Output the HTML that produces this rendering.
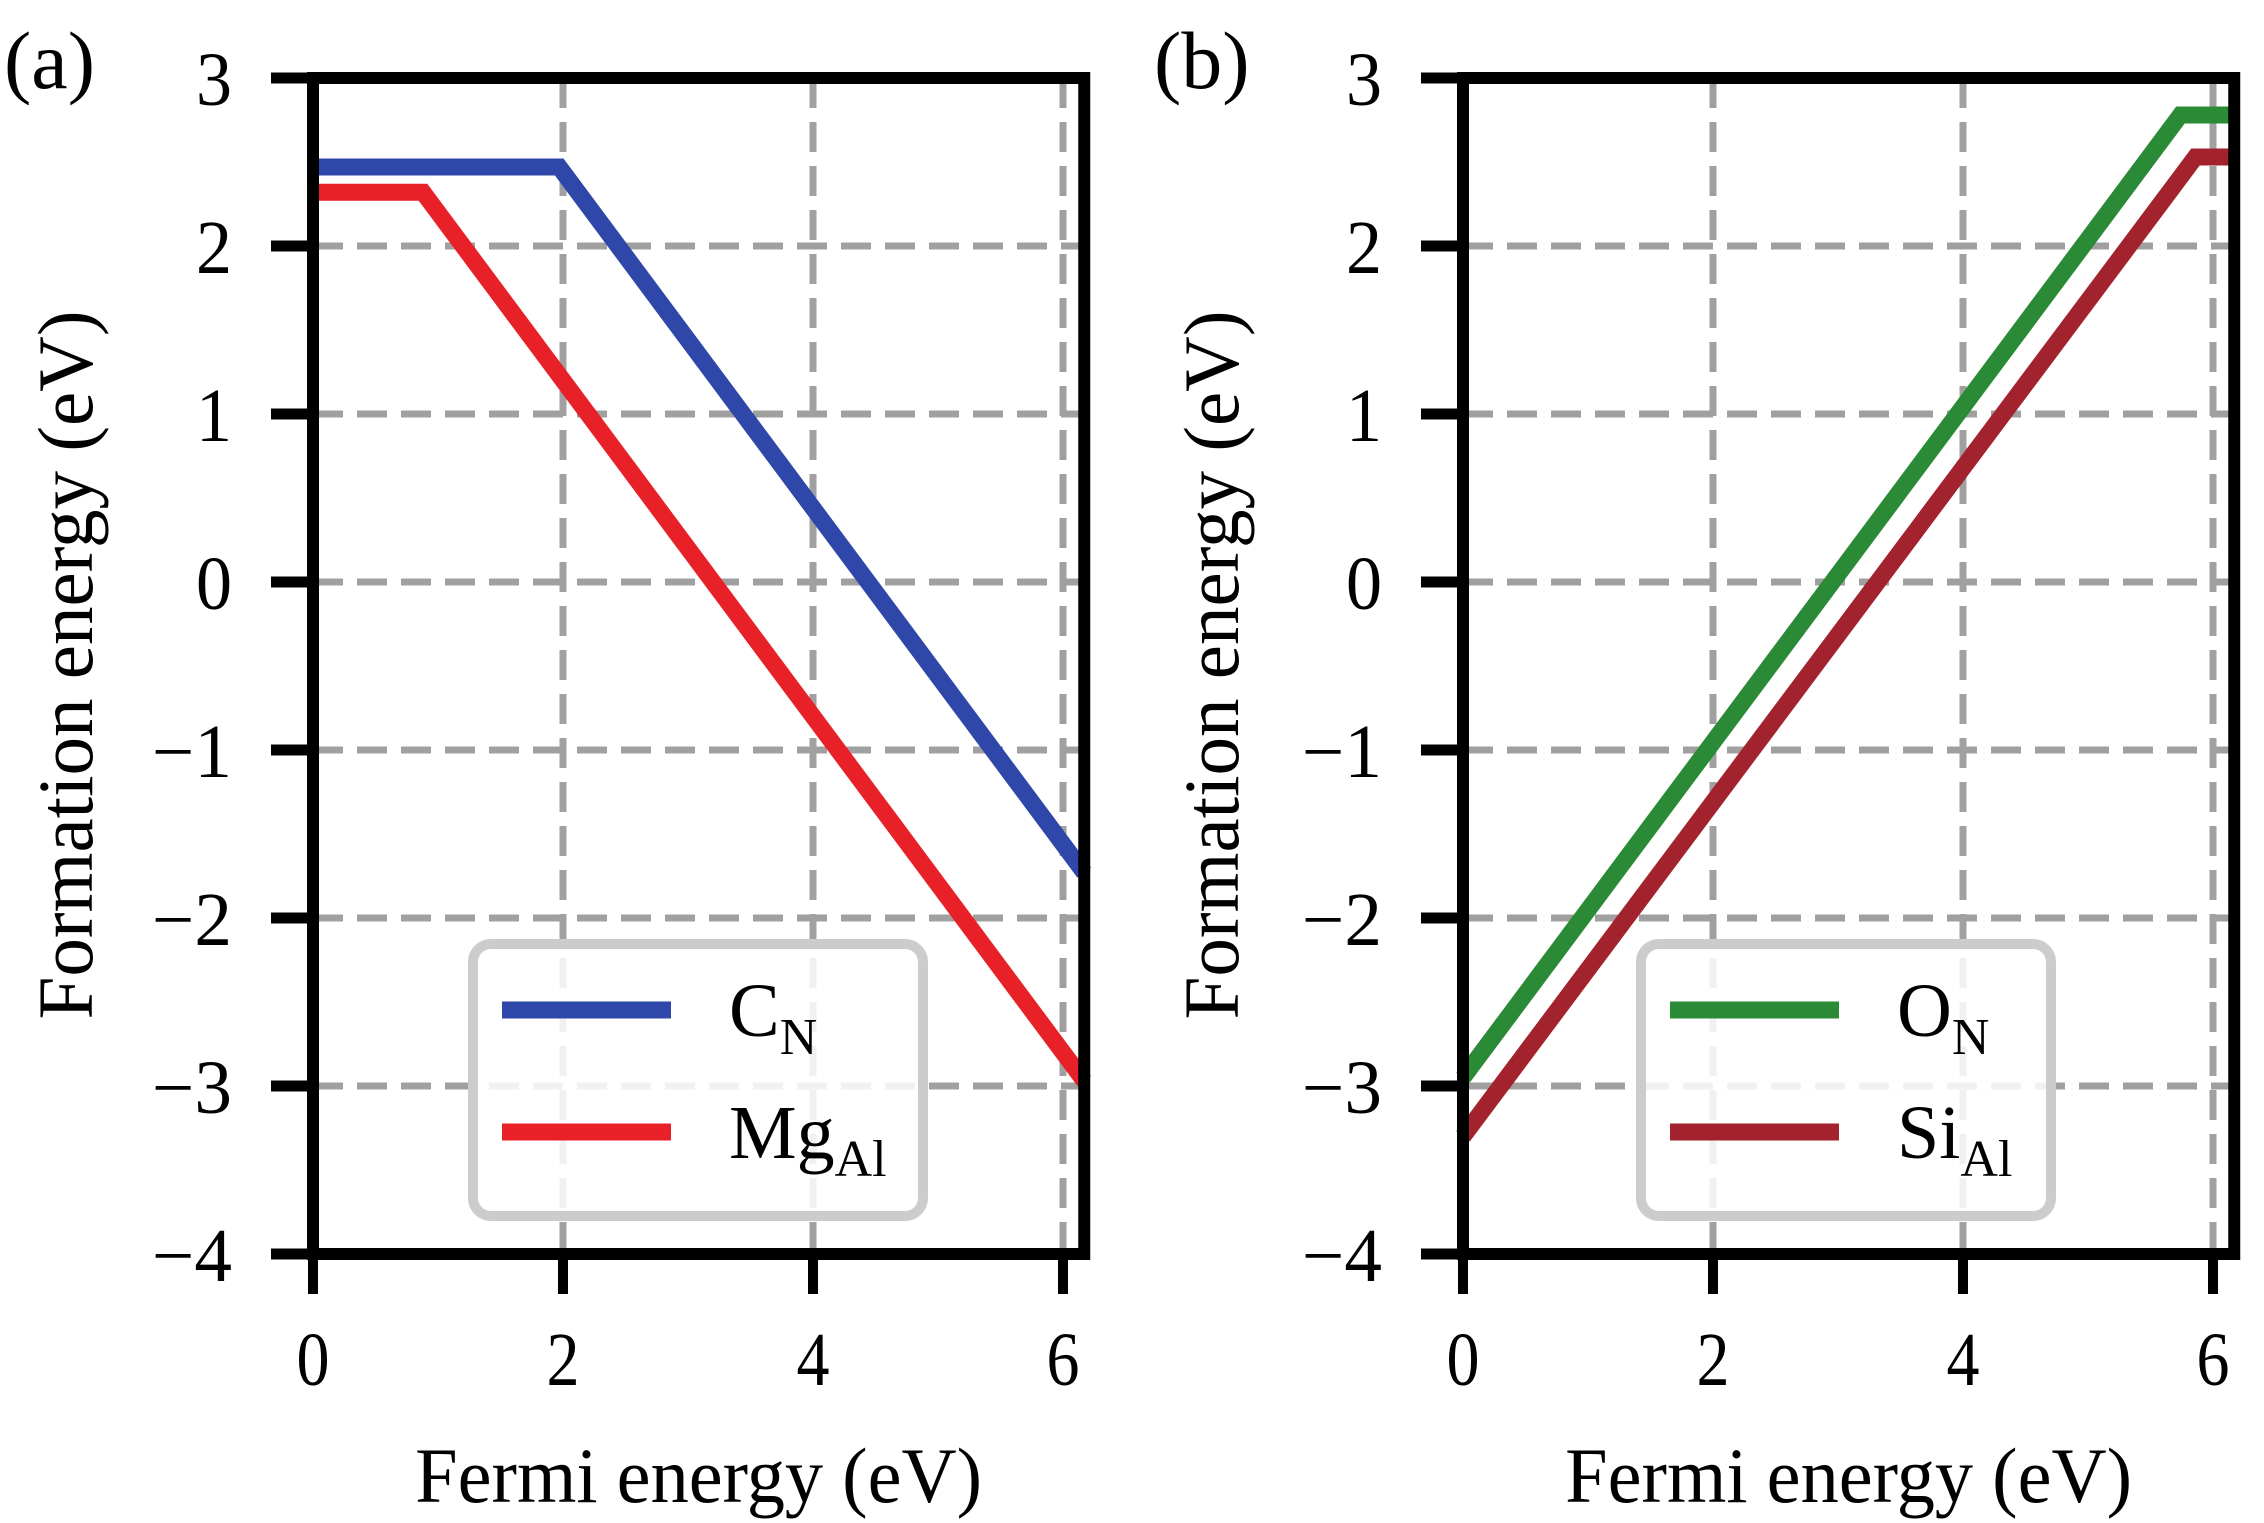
<!DOCTYPE html>
<html><head><meta charset="utf-8"><style>
html,body{margin:0;padding:0;background:#fff}
svg{display:block}
text{font-family:"Liberation Serif",serif;fill:#000}
</style></head><body>
<svg id="fig" width="2264" height="1523" viewBox="0 0 2264 1523" xmlns="http://www.w3.org/2000/svg"></svg>
<script>
const xTicks=[0,2,4,6];
const yTicks=[3,2,1,0,-1,-2,-3,-4];
const yTickLabels=["3","2","1","0","\u22121","\u22122","\u22123","\u22124"];
const xTickLabels=["0","2","4","6"];
const cnX=[0,1.97,6.17];
const cnY=[2.47,2.47,-1.73];
const mgX=[0,0.88,6.17];
const mgY=[2.32,2.32,-2.97];
const onX=[0,5.74,6.17];
const onY=[-2.95,2.78,2.78];
const siX=[0,5.86,6.17];
const siY=[-3.30,2.53,2.53];
const NS="http://www.w3.org/2000/svg";
const svg=document.getElementById('fig');
function mk(tag,attrs,parent){const e=document.createElementNS(NS,tag);for(const k in attrs)e.setAttribute(k,attrs[k]);(parent||svg).appendChild(e);return e;}
const XMIN=0,XMAX=6.17,YMIN=-4,YMAX=3,UX=125,UY=168,TOP=78;
function panel(left,name,series,legendBox,letter,letterX,ylabX){
  const g=mk('g',{});
  
  
  const sx=v=>left+(v-XMIN)*UX, sy=v=>TOP+(YMAX-v)*UY;
  const right=sx(XMAX),bottom=sy(YMIN);
  // grid
  xTicks.forEach(t=>{const l=mk('line',{x1:sx(t),x2:sx(t),y1:TOP,y2:bottom,stroke:'#a0a0a0','stroke-width':7,'stroke-dasharray':'30 14'},g);
    
    });
  yTicks.forEach(t=>{const l=mk('line',{x1:left,x2:right,y1:sy(t),y2:sy(t),stroke:'#a0a0a0','stroke-width':7,'stroke-dasharray':'30 14'},g);
    
    });
  // series
  series.forEach(s=>{
    const pts=s.x.map((v,i)=>sx(v)+','+sy(s.y[i])).join(' ');
    const p=mk('polyline',{points:pts,fill:'none',stroke:s.color,'stroke-width':17,'stroke-linejoin':'miter'},g);
    
    
  });
  // ticks & labels
  xTicks.forEach((t,i)=>{mk('line',{x1:sx(t),x2:sx(t),y1:bottom,y2:bottom+40,stroke:'#000','stroke-width':10},g);
    const tx=mk('text',{x:sx(t),y:1385,'font-size':76,'text-anchor':'middle',textLength:33,lengthAdjust:'spacingAndGlyphs'},g);
    tx.textContent=xTickLabels[i];
    
    });
  yTicks.forEach((t,i)=>{mk('line',{x1:left-42,x2:left,y1:sy(t),y2:sy(t),stroke:'#000','stroke-width':11},g);
    const lab=yTickLabels[i];
    const tx=mk('text',{x:left-81,y:sy(t)+27,'font-size':76,'text-anchor':'end',textLength:lab.length>1?80:36,lengthAdjust:'spacingAndGlyphs'},g);
    tx.textContent=lab;
    
    });
  // spines
  const fr=mk('rect',{x:left,y:TOP,width:right-left,height:bottom-TOP,fill:'none',stroke:'#000','stroke-width':12},g);
  
  
  // legend
  const lg=mk('g',{},g);
  
  
  mk('rect',{x:legendBox[0],y:944,width:legendBox[1]-legendBox[0],height:272,rx:18,fill:'rgba(255,255,255,0.85)',stroke:'#cccccc','stroke-width':10},lg);
  series.forEach((s,i)=>{
    const y=1010+i*122;
    const ll=mk('line',{x1:legendBox[0]+29,x2:legendBox[0]+198,y1:y,y2:y,stroke:s.color,'stroke-width':17},lg);
    
    
    const tx=mk('text',{x:legendBox[0]+256,y:y+26,'font-size':76},lg);
    
    
    const a=mk('tspan',{},tx);a.textContent=s.main;
    const b=mk('tspan',{'font-size':52,dy:18},tx);b.textContent=s.sub;
  });
  // axis labels
  const xl=mk('text',{x:(left+right)/2,y:1502,'font-size':78,'text-anchor':'middle',textLength:567,lengthAdjust:'spacingAndGlyphs'},g);
  xl.textContent='Fermi energy (eV)';
  
  
  const yl=mk('text',{x:0,y:0,'font-size':78,'text-anchor':'middle',textLength:709,lengthAdjust:'spacingAndGlyphs',transform:`translate(${ylabX},665) rotate(-90)`},g);
  yl.textContent='Formation energy (eV)';
  
  
  const pl=mk('text',{x:letterX,y:88,'font-size':82},g);
  pl.textContent=letter;
  
  
}
panel(313,'panel-a',[
  {id:'cn',x:cnX,y:cnY,color:'#2f47a8',main:'C',sub:'N'},
  {id:'mgal',x:mgX,y:mgY,color:'#e82129',main:'Mg',sub:'Al'}
],[473,923],'(a)',4,92);
panel(1463,'panel-b',[
  {id:'on',x:onX,y:onY,color:'#2a8a35',main:'O',sub:'N'},
  {id:'sial',x:siX,y:siY,color:'#a2232e',main:'Si',sub:'Al'}
],[1641,2051],'(b)',1154,1238);
</script>
</body></html>
